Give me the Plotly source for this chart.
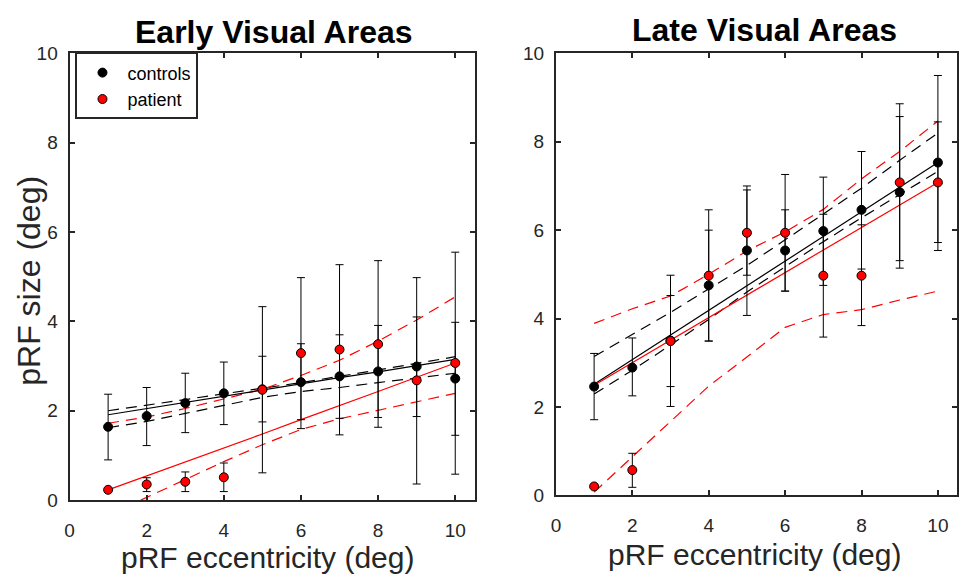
import numpy as np
import plotly.graph_objects as go

ecc = [1, 2, 3, 4, 5, 6, 7, 8, 9, 10]

# ---- Early visual areas ----
early_ctrl = [1.64, 1.88, 2.17, 2.39, 2.48, 2.64, 2.77, 2.88, 2.99, 2.72]
early_ctrl_lo = [0.90, 1.22, 1.51, 1.69, 1.75, 1.80, 1.83, 1.85, 1.87, 1.45]
early_ctrl_hi = [2.37, 2.52, 2.84, 3.09, 3.22, 3.50, 3.70, 3.91, 4.10, 3.98]
early_pat = [0.23, 0.35, 0.41, 0.51, 2.47, 3.29, 3.37, 3.49, 2.68, 3.07]
early_pat_lo = [0.20, 0.19, 0.19, 0.19, 0.61, 1.60, 1.46, 1.63, 0.36, 0.58]
early_pat_hi = [0.25, 0.50, 0.63, 0.83, 4.33, 4.98, 5.27, 5.36, 4.98, 5.55]
early_ctrl_fit = [1.91, 2.05, 2.19, 2.32, 2.46, 2.60, 2.74, 2.87, 3.01, 3.15]
early_ctrl_fit_up = [2.00, 2.12, 2.25, 2.38, 2.50, 2.63, 2.77, 2.91, 3.06, 3.21]
early_ctrl_fit_lo = [1.62, 1.76, 1.94, 2.12, 2.30, 2.43, 2.52, 2.63, 2.73, 2.84]
early_pat_fit = [0.23, 0.54, 0.85, 1.17, 1.48, 1.80, 2.11, 2.43, 2.75, 3.07]
early_pat_fit_up = [1.72, 1.86, 2.05, 2.26, 2.48, 2.79, 3.13, 3.56, 4.03, 4.55]
early_pat_fit_lo = [-0.34, 0.06, 0.46, 0.86, 1.24, 1.58, 1.82, 2.01, 2.21, 2.39]

# ---- Late visual areas ----
late_ctrl = [2.46, 2.89, 3.50, 4.75, 5.54, 5.54, 5.98, 6.46, 6.86, 7.53]
late_ctrl_lo = [1.71, 2.25, 2.01, 3.49, 4.07, 4.62, 4.75, 5.12, 5.14, 5.54]
late_ctrl_hi = [3.21, 3.56, 4.98, 6.00, 7.00, 6.46, 7.20, 7.78, 8.57, 9.50]
late_pat = [0.20, 0.57, 3.49, 4.97, 5.94, 5.94, 4.97, 4.97, 7.08, 7.08]
late_pat_lo = [0.17, 0.18, 2.46, 3.49, 4.98, 4.62, 3.58, 3.84, 5.31, 5.72]
late_pat_hi = [0.23, 0.95, 4.52, 6.46, 6.91, 7.26, 6.36, 6.12, 8.86, 8.45]
late_ctrl_fit = [2.51, 3.07, 3.63, 4.18, 4.74, 5.30, 5.86, 6.42, 6.97, 7.53]
late_ctrl_fit_up = [3.14, 3.64, 4.14, 4.67, 5.20, 5.78, 6.36, 6.95, 7.58, 8.20]
late_ctrl_fit_lo = [2.29, 2.83, 3.40, 3.98, 4.60, 5.17, 5.74, 6.28, 6.80, 7.33]
late_pat_fit = [2.49, 3.00, 3.51, 4.02, 4.53, 5.04, 5.55, 6.06, 6.57, 7.08]
late_pat_fit_up = [3.89, 4.22, 4.51, 5.00, 5.53, 5.96, 6.47, 7.16, 7.78, 8.47]
late_pat_fit_lo = [0.07, 0.87, 1.69, 2.47, 3.13, 3.80, 4.09, 4.20, 4.42, 4.62]

x_ticks = [0, 2, 4, 6, 8, 10]
y_ticks = [0, 2, 4, 6, 8, 10]

FONT = "Liberation Sans, Arial, Helvetica, sans-serif"
AX = "#262626"
RED = "#ff0000"

fig = go.Figure()


def add_panel(xa, ya, ctrl, clo, chi, pat, plo, phi, cf, cfu, cfl, pf, pfu, pfl, show_leg):
    common = dict(xaxis=xa, yaxis=ya)
    for yy, col, dash in [(cfu, "black", "11px,7px"), (cfl, "black", "11px,7px"),
                          (pfu, RED, "11px,7px"), (pfl, RED, "11px,7px"),
                          (cf, "black", "solid"), (pf, RED, "solid")]:
        fig.add_trace(go.Scatter(x=ecc, y=yy, mode="lines", showlegend=False,
                                 line=dict(color=col, width=1.2, dash=dash),
                                 hoverinfo="skip", **common))
    for yy, lo, hi, fill, name in [(ctrl, clo, chi, "black", "controls"),
                                   (pat, plo, phi, RED, "patient")]:
        up = (np.array(hi) - np.array(yy)).tolist()
        dn = (np.array(yy) - np.array(lo)).tolist()
        fig.add_trace(go.Scatter(
            x=ecc, y=yy, mode="markers", name=name, showlegend=show_leg,
            marker=dict(color=fill, size=9, line=dict(color="black", width=1)),
            error_y=dict(type="data", symmetric=False, array=up, arrayminus=dn,
                         color="black", thickness=1, width=4),
            **common))


add_panel("x", "y", early_ctrl, early_ctrl_lo, early_ctrl_hi, early_pat, early_pat_lo,
          early_pat_hi, early_ctrl_fit, early_ctrl_fit_up, early_ctrl_fit_lo,
          early_pat_fit, early_pat_fit_up, early_pat_fit_lo, True)
add_panel("x2", "y2", late_ctrl, late_ctrl_lo, late_ctrl_hi, late_pat, late_pat_lo,
          late_pat_hi, late_ctrl_fit, late_ctrl_fit_up, late_ctrl_fit_lo,
          late_pat_fit, late_pat_fit_up, late_pat_fit_lo, False)

axis_common = dict(showgrid=False, zeroline=False, showline=True, linecolor=AX,
                   linewidth=2, mirror="ticks", ticks="inside", ticklen=5,
                   tickwidth=2, tickcolor=AX,
                   tickfont=dict(family=FONT, size=19, color=AX))

fig.update_layout(
    width=959, height=586,
    margin=dict(l=0, r=0, t=0, b=0),
    paper_bgcolor="white", plot_bgcolor="white",
    font=dict(family=FONT, color=AX),
    xaxis=dict(domain=[0.0678, 0.4932], range=[0, 10.5], tickvals=x_ticks,
               anchor="y", ticklabelstandoff=12, **axis_common),
    yaxis=dict(domain=[0.1326, 0.9232], range=[0, 10], tickvals=y_ticks,
               anchor="x", ticklabelstandoff=6, **axis_common),
    xaxis2=dict(domain=[0.5787, 1.0], range=[0, 10.5], tickvals=x_ticks,
                anchor="y2", ticklabelstandoff=12, **axis_common),
    yaxis2=dict(domain=[0.1411, 0.9232], range=[0, 10], tickvals=y_ticks,
                anchor="x2", ticklabelstandoff=6, **axis_common),
    legend=dict(x=71 / 959, y=1 - 44 / 586, xanchor="left", yanchor="top",
                bordercolor=AX, borderwidth=2, bgcolor="white",
                font=dict(family=FONT, size=18, color="black"),
                tracegroupgap=0, itemwidth=40),
    showlegend=True,
)

ann = [
    dict(text="<b>Early Visual Areas</b>", x=271, y=22.5, size=32, color="black"),
    dict(text="<b>Late Visual Areas</b>", x=765, y=21, size=32, color="black"),
    dict(text="pRF eccentricity (deg)", x=264, y=568, size=30, color=AX),
    dict(text="pRF eccentricity (deg)", x=755, y=565, size=30, color=AX),
]
for a in ann:
    fig.add_annotation(text=a["text"], x=a["x"] / 959, y=1 - a["y"] / 586,
                       xref="paper", yref="paper", showarrow=False,
                       xanchor="center", yanchor="middle",
                       font=dict(family=FONT, size=a["size"], color=a["color"]))
fig.add_annotation(text="pRF size (deg)", x=24 / 959, y=1 - 281 / 586, xref="paper",
                   yref="paper", showarrow=False, textangle=-90,
                   xanchor="center", yanchor="middle",
                   font=dict(family=FONT, size=32, color=AX))

fig.write_html("out.html")
